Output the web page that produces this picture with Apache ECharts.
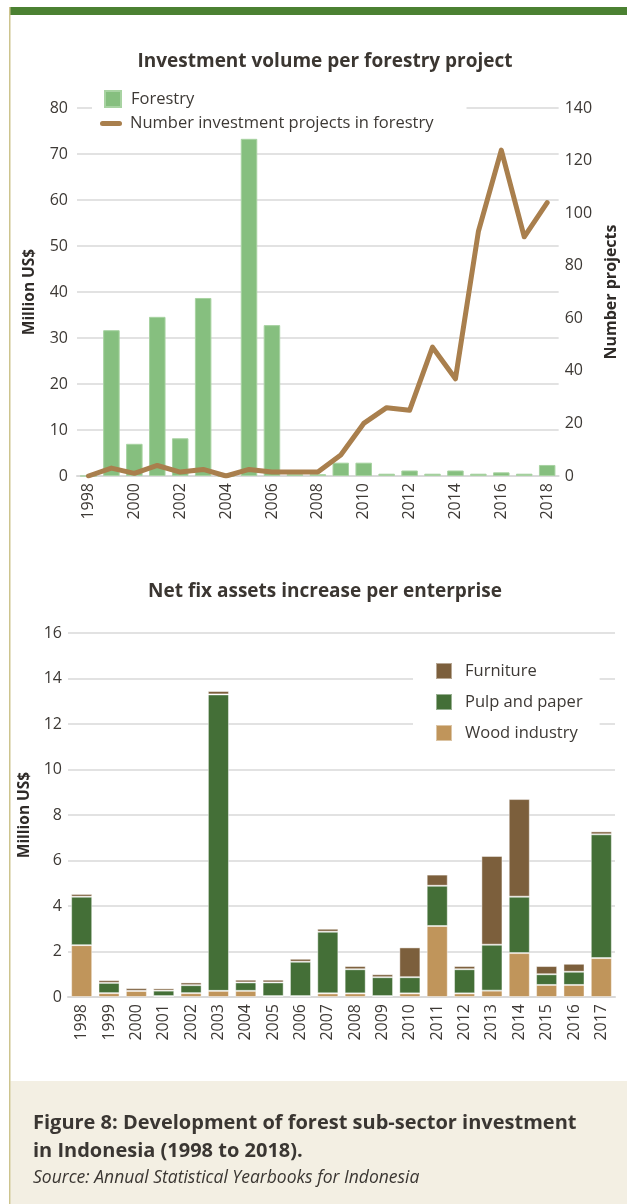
<!DOCTYPE html>
<html>
<head>
<meta charset="utf-8">
<script src="https://cdn.jsdelivr.net/npm/echarts@6/dist/echarts.min.js"></script>
<style>
  html, body { margin: 0; padding: 0; background: #fff; }
  #chart { width: 627px; height: 1204px; }
</style>
</head>
<body>
<div id="chart"></div>
<script>
// top chart: forestry investment and number of projects
var yearsTop = ['1998', '1999', '2000', '2001', '2002', '2003', '2004', '2005', '2006', '2007',
    '2008', '2009', '2010', '2011', '2012', '2013', '2014', '2015', '2016', '2017', '2018'];
var forestry = [0, 31.7, 7.0, 34.6, 8.2, 38.7, 0, 73.3, 32.8, 0.4, 0.4,
    2.9, 2.9, 0.5, 1.2, 0.5, 1.2, 0.5, 0.8, 0.5, 2.4];
var projects = [0, 3, 1, 4, 1.5, 2.5, 0, 2.5, 1.5, 1.5, 1.5,
    8, 20, 26, 25, 49, 37, 93, 124, 91, 104];

// bottom chart: net fix assets increase per enterprise
var yearsBottom = ['1998', '1999', '2000', '2001', '2002', '2003', '2004', '2005', '2006', '2007',
    '2008', '2009', '2010', '2011', '2012', '2013', '2014', '2015', '2016', '2017'];
var wood = [2.28, 0.17, 0.27, 0.04, 0.17, 0.27, 0.27, 0.04, 0.04, 0.16,
    0.16, 0.04, 0.16, 3.12, 0.16, 0.28, 1.93, 0.53, 0.53, 1.71];
var pulp = [2.13, 0.45, 0, 0.24, 0.35, 13.03, 0.37, 0.6, 1.51, 2.71,
    1.06, 0.83, 0.71, 1.77, 1.06, 2.02, 2.48, 0.47, 0.58, 5.44];
var furniture = [0.12, 0.12, 0.12, 0.1, 0.12, 0.15, 0.12, 0.12, 0.13, 0.13,
    0.14, 0.13, 1.31, 0.49, 0.14, 3.9, 4.29, 0.36, 0.35, 0.13];

var font = 'Open Sans';
var textColor = '#3d3935';
var gridColor = '#e2e2e2';

var xAxisBase = {
    type: 'category',
    axisLine: { lineStyle: { color: '#d9d9d9', width: 2 } },
    axisTick: { interval: 0, length: 5, lineStyle: { color: '#d9d9d9', width: 2 } },
    axisLabel: { rotate: 90, fontSize: 16, color: textColor, fontFamily: font, margin: 7 }
};

var option = {
    animation: false,
    textStyle: { fontFamily: font },
    title: [{
        text: 'Investment volume per forestry project',
        left: 320, top: 47, textAlign: 'center',
        textStyle: { fontSize: 19, fontWeight: 'bold', color: '#3b3631', fontFamily: font }
    }, {
        text: 'Net fix assets increase per enterprise',
        left: 320, top: 577, textAlign: 'center',
        textStyle: { fontSize: 19, fontWeight: 'bold', color: '#3b3631', fontFamily: font }
    }],
    legend: [{
        data: [{ name: 'Forestry', icon: 'rect' }],
        left: 92, top: 84, z: 6,
        orient: 'vertical',
        padding: [6, 12, 4, 12],
        itemWidth: 16, itemHeight: 16,
        backgroundColor: '#fff',
        textStyle: { fontSize: 16.5, color: textColor, fontFamily: font, padding: [0, 0, 0, 5] }
    }, {
        data: [{
            name: 'Number investment projects in forestry',
            icon: 'path://M2.5,0 L19.5,0 A2.5,2.5 0 0 1 19.5,5 L2.5,5 A2.5,2.5 0 0 1 2.5,0 Z'
        }],
        left: 92, top: 100, z: 5,
        orient: 'vertical',
        padding: [15, 33, 6, 8],
        itemWidth: 22, itemHeight: 16,
        backgroundColor: '#fff',
        textStyle: { fontSize: 16.5, color: textColor, fontFamily: font, padding: [0, 0, 0, 3] }
    }, {
        data: ['Furniture', 'Pulp and paper', 'Wood industry'],
        icon: 'rect',
        left: 413, top: 654, z: 5,
        orient: 'vertical',
        padding: [8, 17, 18, 22],
        itemGap: 13,
        itemWidth: 16, itemHeight: 16,
        backgroundColor: '#fff',
        textStyle: { fontSize: 16.5, color: textColor, fontFamily: font, padding: [0, 0, 0, 8] }
    }],
    grid: [
        { left: 77, right: 53, top: 108, height: 368 },
        { left: 68, right: 12, top: 633, height: 364 }
    ],
    xAxis: [
        Object.assign({}, xAxisBase, {
            gridIndex: 0, data: yearsTop,
            axisLabel: Object.assign({}, xAxisBase.axisLabel, { interval: 1 })
        }),
        Object.assign({}, xAxisBase, {
            gridIndex: 1, data: yearsBottom,
            axisLabel: Object.assign({}, xAxisBase.axisLabel, { interval: 0 })
        })
    ],
    yAxis: [{
        gridIndex: 0, type: 'value', min: 0, max: 80, interval: 10,
        name: 'Million US$', nameLocation: 'middle', nameGap: 39,
        nameTextStyle: { fontSize: 15.5, fontWeight: 'bold', color: '#2f2b28', fontFamily: font },
        axisLine: { show: false }, axisTick: { show: false },
        axisLabel: { fontSize: 16, color: textColor, margin: 9 },
        splitLine: { lineStyle: { color: gridColor, width: 2 } }
    }, {
        gridIndex: 0, type: 'value', min: 0, max: 140, interval: 20, position: 'right',
        name: 'Number projects', nameLocation: 'middle', nameGap: 36, nameRotate: 90,
        nameTextStyle: { fontSize: 16, fontWeight: 'bold', color: '#2f2b28', fontFamily: font },
        axisLine: { show: false }, axisTick: { show: false },
        axisLabel: { fontSize: 16, color: textColor, margin: 6 },
        splitLine: { show: false }
    }, {
        gridIndex: 1, type: 'value', min: 0, max: 16, interval: 2,
        name: 'Million US$', nameLocation: 'middle', nameGap: 30,
        nameTextStyle: { fontSize: 15.5, fontWeight: 'bold', color: '#2f2b28', fontFamily: font },
        axisLine: { show: false }, axisTick: { show: false },
        axisLabel: { fontSize: 16, color: textColor, margin: 6 },
        splitLine: { lineStyle: { color: gridColor, width: 2 } }
    }],
    series: [{
        name: 'Forestry', type: 'bar',
        xAxisIndex: 0, yAxisIndex: 0,
        data: forestry,
        barCategoryGap: '28%',
        itemStyle: { color: '#86bf7f', borderColor: '#a8d3a2', borderWidth: 1 }
    }, {
        name: 'Number investment projects in forestry', type: 'line',
        xAxisIndex: 0, yAxisIndex: 1,
        data: projects,
        symbol: 'none',
        z: 3,
        itemStyle: { color: '#a97f4d' },
        lineStyle: { color: '#a97f4d', width: 5, cap: 'round', join: 'round' }
    }, {
        name: 'Wood industry', type: 'bar', stack: 'assets',
        xAxisIndex: 1, yAxisIndex: 2,
        data: wood,
        barCategoryGap: '23%',
        itemStyle: { color: '#c0955b', borderColor: 'rgba(255,255,255,0.45)', borderWidth: 1 }
    }, {
        name: 'Pulp and paper', type: 'bar', stack: 'assets',
        xAxisIndex: 1, yAxisIndex: 2,
        data: pulp,
        itemStyle: { color: '#446f37', borderColor: 'rgba(255,255,255,0.45)', borderWidth: 1 }
    }, {
        name: 'Furniture', type: 'bar', stack: 'assets',
        xAxisIndex: 1, yAxisIndex: 2,
        data: furniture,
        itemStyle: { color: '#7c5f3c', borderColor: 'rgba(255,255,255,0.45)', borderWidth: 1 }
    }],
    graphic: {
        elements: [{
            type: 'rect', z: 10,
            shape: { x: 10, y: 7, width: 617, height: 8 },
            style: { fill: '#4b8132' }
        }, {
            type: 'rect', z: 10,
            shape: { x: 9, y: 7, width: 1.5, height: 1197 },
            style: { fill: '#cdc48e' }
        }, {
            type: 'rect', z: 1,
            shape: { x: 10.5, y: 1081, width: 617, height: 123 },
            style: { fill: '#f3efe3' }
        }, {
            type: 'text', z: 11, x: 33, y: 1123,
            style: {
                text: 'Figure 8: Development of forest sub-sector investment',
                fontSize: 20, fontWeight: 'bold', fontFamily: font, fill: '#3a3632',
                verticalAlign: 'middle'
            }
        }, {
            type: 'text', z: 11, x: 33, y: 1151,
            style: {
                text: 'in Indonesia (1998 to 2018).',
                fontSize: 20, fontWeight: 'bold', fontFamily: font, fill: '#3a3632',
                verticalAlign: 'middle'
            }
        }, {
            type: 'text', z: 11, x: 33, y: 1178,
            style: {
                text: 'Source: Annual Statistical Yearbooks for Indonesia',
                fontSize: 17.5, fontStyle: 'italic', fontFamily: font, fill: '#3a3632',
                verticalAlign: 'middle'
            }
        }]
    }
};

var myChart = echarts.init(document.getElementById('chart'), null, { renderer: 'canvas' });
myChart.setOption(option);
</script>
</body>
</html>
